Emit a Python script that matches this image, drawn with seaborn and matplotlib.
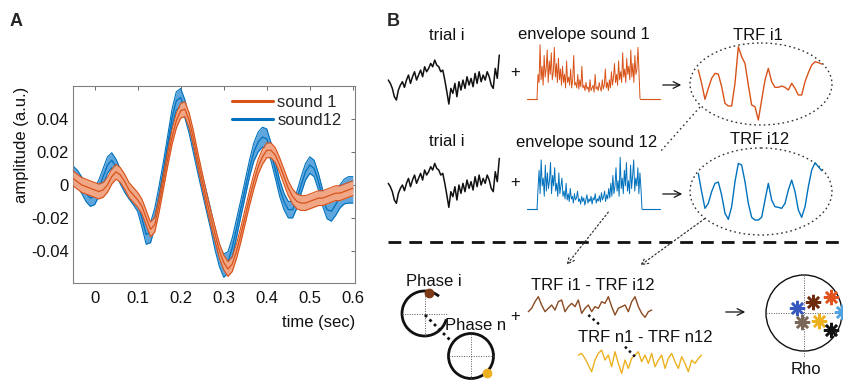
import numpy as np
import pandas as pd
import matplotlib
matplotlib.use("Agg")
import matplotlib.pyplot as plt
from matplotlib.patches import Ellipse, Circle, Arc
from matplotlib.lines import Line2D
import seaborn as sns

# ---------------- Panel A: average TRFs ----------------
time_s = np.round(np.arange(-5, 61) / 100.0, 2)

sound1_mean = [0.004, 0.002, 0.000, -0.001, -0.002, -0.003, -0.004, -0.003, 0.000, 0.005,
               0.008, 0.006, 0.002, -0.003, -0.006, -0.009, -0.013, -0.020, -0.027, -0.024,
               -0.012, 0.002, 0.016, 0.029, 0.039, 0.045, 0.046, 0.039, 0.028, 0.015,
               0.003, -0.009, -0.020, -0.030, -0.040, -0.047, -0.051, -0.048, -0.040, -0.030,
               -0.019, -0.008, 0.002, 0.011, 0.017, 0.021, 0.021, 0.018, 0.012, 0.005,
               -0.002, -0.007, -0.010, -0.011, -0.011, -0.010, -0.009, -0.008, -0.008, -0.007,
               -0.006, -0.005, -0.005, -0.004, -0.003, -0.002]
sound1_sem = 0.0045

sound12_mean = [0.006, 0.004, 0.000, -0.005, -0.008, -0.007, -0.002, 0.005, 0.012, 0.015,
                0.011, 0.005, 0.000, -0.004, -0.007, -0.011, -0.020, -0.030, -0.029, -0.020,
                -0.006, 0.009, 0.025, 0.041, 0.051, 0.053, 0.046, 0.036, 0.024, 0.012,
                0.001, -0.010, -0.021, -0.033, -0.043, -0.049, -0.047, -0.038, -0.026, -0.014,
                -0.002, 0.010, 0.020, 0.026, 0.029, 0.028, 0.020, 0.009, -0.002, -0.010,
                -0.015, -0.015, -0.009, 0.000, 0.008, 0.012, 0.010, 0.002, -0.008, -0.015,
                -0.016, -0.012, -0.007, -0.004, -0.003, -0.003]
sound12_sem = [0.0055, 0.005, 0.005, 0.005, 0.005, 0.005, 0.005, 0.005, 0.005, 0.0045,
               0.0045, 0.0045, 0.0045, 0.0045, 0.005, 0.005, 0.0055, 0.006, 0.006, 0.006,
               0.0055, 0.005, 0.005, 0.005, 0.0055, 0.0055, 0.0055, 0.005, 0.005, 0.005,
               0.0055, 0.006, 0.006, 0.0065, 0.0065, 0.007, 0.0065, 0.006, 0.0055, 0.005,
               0.005, 0.005, 0.0055, 0.006, 0.006, 0.006, 0.0055, 0.005, 0.005, 0.005,
               0.005, 0.005, 0.005, 0.005, 0.005, 0.005, 0.005, 0.005, 0.005, 0.0055,
               0.006, 0.0065, 0.007, 0.0075, 0.008, 0.008]

series_labels = ["sound 1", "sound12"]
yticks = [-0.04, -0.02, 0, 0.02, 0.04]
ytick_labels = ["-0.04", "-0.02", "0", "0.02", "0.04"]
xticks = [0, 0.1, 0.2, 0.3, 0.4, 0.5, 0.6]
xtick_labels = ["0", "0.1", "0.2", "0.3", "0.4", "0.5", "0.6"]

# ---------------- Panel B: schematic traces ----------------
trial_trace = [8.0, 7.0, 5.5, 3.0, 2.0, 5.0, 6.5, 7.5, 5.8, 8.0, 9.5, 7.0, 9.0, 10.5, 8.0,
               9.5, 11.0, 9.0, 12.0, 10.5, 11.5, 13.0, 12.0, 14.0, 12.5, 12.0, 10.5, 11.0,
               8.0, 4.5, 0.8, 5.5, 4.0, 7.0, 3.0, 7.5, 5.0, 8.0, 5.5, 9.0, 6.5, 8.5, 6.0,
               10.0, 7.0, 10.5, 7.5, 9.5, 8.0, 10.5, 9.0, 6.5, 5.5, 11.5, 8.5, 15.5]

envelope_sound1 = [0.0,
                   0.45, 0.30, 1.00, 0.35, 0.60, 0.25, 0.80, 0.40, 0.55, 0.90, 0.30, 0.70, 0.45,
                   0.85, 0.35, 0.50, 0.95, 0.40, 0.65, 0.30, 0.75, 0.35, 0.55, 0.25, 0.60,
                   0.30, 0.45, 0.20, 0.70, 0.30, 0.40, 0.25, 0.55, 0.20, 0.35, 0.80, 0.25,
                   0.30, 0.20, 0.45, 0.18, 0.35, 0.22, 0.60, 0.20,
                   0.25, 0.15, 0.30, 0.18, 0.22, 0.12, 0.35, 0.15, 0.20, 0.25, 0.12, 0.45,
                   0.18, 0.22, 0.15, 0.30, 0.20, 0.14, 0.35, 0.18, 0.25, 0.55, 0.20, 0.30, 0.15,
                   0.35, 0.20, 0.50, 0.25, 0.40, 0.65, 0.30, 0.45, 0.25, 0.70, 0.35, 0.50,
                   0.30, 0.85, 0.40, 0.55, 0.30, 0.75, 0.45, 0.60, 0.35, 0.90, 0.40, 0.65,
                   0.30, 0.80, 0.45, 0.55, 0.95, 0.50,
                   0.0]

envelope_sound12 = [0.0,
                    0.40, 0.75, 0.30, 0.95, 0.45, 0.60, 0.25, 0.85, 0.35, 0.70, 0.40, 0.55,
                    0.90, 0.30, 0.65, 0.45, 0.80, 0.35, 0.50, 0.25, 0.70, 0.30, 0.45, 0.60, 0.25,
                    0.35, 0.20, 0.50, 0.18, 0.30, 0.15, 0.40, 0.20, 0.25, 0.12, 0.30, 0.18,
                    0.22, 0.35, 0.15,
                    0.20, 0.10, 0.25, 0.15, 0.22, 0.08, 0.18, 0.28, 0.12, 0.20, 0.15, 0.25,
                    0.10, 0.22, 0.18, 0.30, 0.12, 0.20, 0.16, 0.26, 0.14, 0.32, 0.18, 0.24,
                    0.35, 0.15, 0.28, 0.20, 0.40, 0.22,
                    0.50, 0.25, 0.65, 0.30, 0.45, 0.80, 0.35, 0.55, 0.25, 1.00, 0.40, 0.60,
                    0.30, 0.75, 0.45, 0.90, 0.35, 0.55, 0.30, 0.85, 0.40, 0.65, 0.95, 0.35,
                    0.60, 0.45, 0.80, 0.30, 0.70, 0.40,
                    0.0]

trf_i1 = [0.90, 0.50, 0.02, 0.35, 0.65, 0.80, 0.78, 0.40, -0.10, -0.18, -0.18, 0.50, 1.60,
          1.30, 1.10, 0.45, -0.15, -0.20, -0.60, 0.00, 0.60, 0.95, 0.55, 0.38, 0.38, 0.42,
          0.38, 0.30, 0.50, 0.35, 0.15, 0.15, 0.55, 0.82, 1.05, 1.15, 1.12, 1.08]

trf_i12 = [1.40, 0.85, 0.35, 0.50, 0.85, 1.10, 1.14, 0.75, 0.20, 0.02, 0.40, 1.15, 1.70,
           1.65, 1.15, 0.50, 0.08, 0.00, 0.00, 0.08, 0.60, 1.10, 0.60, 0.40, 0.38, 0.35,
           0.50, 0.90, 1.20, 0.85, 0.30, 0.08, 0.40, 1.00, 1.50, 1.72, 1.60, 1.48]

trf_diff_i = [2.5, 3.5, 5.5, 7.0, 4.5, 2.5, 3.5, 4.5, 3.0, 5.5, 6.0, 2.5, 4.0, 5.0, 4.0,
              6.0, 2.0, 3.5, 4.5, 2.5, 4.0, 3.5, 5.5, 5.0, 7.0, 4.0, 1.5, 3.5, 4.0, 4.5,
              2.5, 5.5, 7.0, 4.0, 2.0, 0.8, 2.5, 3.0]

trf_diff_n = [6.5, 7.0, 5.5, 3.5, 1.5, 5.0, 7.0, 8.0, 5.0, 6.5, 3.0, 7.5, 4.0, 1.0, 5.0,
              2.5, 5.5, 6.5, 7.5, 4.5, 6.5, 4.0, 7.0, 3.0, 5.0, 6.5, 2.5, 5.5, 7.0, 4.5,
              2.5, 6.0, 4.0, 1.5, 5.0, 4.0, 5.5, 6.5]

# phase-coherence points inside the Rho circle (unit-circle coordinates)
rho_x = [-0.19, 0.24, 0.70, 1.00, -0.06, 0.39, 0.70]
rho_y = [0.12, 0.30, 0.43, 0.03, -0.23, -0.20, -0.45]
rho_colors = ["#3559C0", "#6E2A0C", "#E2521E", "#4FA3E0", "#7A6757", "#EDB120", "#111111"]

ORANGE = "#D95319"
BLUE = "#0072BD"
ORANGE_FILL = "#F1A686"
BLUE_FILL = "#5FA6DC"
BROWN = "#8B4A22"
YELLOW = "#EDB120"

sns.set_theme(style="white")
plt.rcParams["font.family"] = ["Liberation Sans", "DejaVu Sans"]
plt.rcParams["axes.unicode_minus"] = False

W, H = 843, 381
fig = plt.figure(figsize=(W / 100, H / 100), dpi=100)

# ---------- Panel A ----------
axA = fig.add_axes([73 / W, 1 - 283 / H, (355 - 73) / W, (283 - 86) / H])

m12 = np.asarray(sound12_mean)
s12 = np.asarray(sound12_sem)
m1 = np.asarray(sound1_mean)

axA.fill_between(time_s, m12 - s12, m12 + s12, color=BLUE_FILL, lw=0, zorder=1)
axA.plot(time_s, m12 - s12, color=BLUE, lw=0.8, zorder=2)
axA.plot(time_s, m12 + s12, color=BLUE, lw=0.8, zorder=2)
df12 = pd.DataFrame({"time": time_s, "amplitude": m12})
sns.lineplot(data=df12, x="time", y="amplitude", ax=axA, color=BLUE, lw=0.9, zorder=2)

axA.fill_between(time_s, m1 - sound1_sem, m1 + sound1_sem, color=ORANGE_FILL, lw=0, zorder=3)
axA.plot(time_s, m1 - sound1_sem, color=ORANGE, lw=0.8, zorder=4)
axA.plot(time_s, m1 + sound1_sem, color=ORANGE, lw=0.8, zorder=4)
df1 = pd.DataFrame({"time": time_s, "amplitude": m1})
sns.lineplot(data=df1, x="time", y="amplitude", ax=axA, color=ORANGE, lw=0.9, zorder=4)

axA.set_xlim(-0.05, 0.605)
axA.set_ylim(-0.0595, 0.06)
axA.set_xticks(xticks)
axA.set_xticklabels(xtick_labels)
axA.set_yticks(yticks)
axA.set_yticklabels(ytick_labels)
axA.set_xlabel("")
axA.set_ylabel("")
axA.tick_params(direction="in", length=3, width=0.6, color="#555555",
                labelsize=12, labelcolor="#111111", top=True, right=True,
                labeltop=False, labelright=False)
axA.tick_params(axis="x", pad=6)
axA.tick_params(axis="y", pad=3)
for sp in axA.spines.values():
    sp.set_color("#808080")
    sp.set_linewidth(0.8)

handles = [Line2D([], [], color=ORANGE, lw=2.2), Line2D([], [], color=BLUE, lw=2.2)]
axA.legend(handles, series_labels, loc="upper right", frameon=False, fontsize=12,
           handlelength=2.5, handletextpad=0.25, labelspacing=0.15,
           borderaxespad=0.15, bbox_to_anchor=(0.985, 1.0))

fig.text(22 / W, 1 - 145 / H, "amplitude (a.u.)", rotation=90, ha="center",
         va="center", fontsize=12, color="#111111")
fig.text(355 / W, 1 - 322 / H, "time (sec)", ha="right", va="center",
         fontsize=12, color="#111111")
fig.text(16 / W, 1 - 21 / H, "A", ha="center", va="center", fontsize=13,
         fontweight="bold")

# ---------- Panel B (pixel coordinates) ----------
axB = fig.add_axes([380 / W, 0, (W - 380) / W, 1])
axB.set_xlim(380, W)
axB.set_ylim(H, 0)
axB.axis("off")


def draw_trace(values, x0, x1, base, scale, color, lw):
    xs = np.linspace(x0, x1, len(values))
    ys = base - scale * np.asarray(values, dtype=float)
    sns.lineplot(x=xs, y=ys, ax=axB, color=color, lw=lw, sort=False, estimator=None)


txt = dict(fontsize=12, color="#111111", ha="center", va="center")
fig.text(393 / W, 1 - 21 / H, "B", ha="center", va="center", fontsize=13,
         fontweight="bold")

# row 1
axB.text(447, 35, "trial i", **txt)
axB.text(584, 35, "envelope sound 1", **txt)
axB.text(758, 35, "TRF i1", **txt)
draw_trace(trial_trace, 388.3, 499.3, 106.7, 3.33, "#111111", 1.1)
axB.text(515, 73, "+", **txt)
axB.plot([527, 537], [98.7, 98.7], color=ORANGE, lw=0.8)
axB.plot([640, 660], [98.7, 98.7], color=ORANGE, lw=0.8)
draw_trace(envelope_sound1, 537, 640, 98.7, 54, ORANGE, 0.7)
axB.annotate("", xy=(684, 85), xytext=(660, 85),
             arrowprops=dict(arrowstyle="->", color="#111111", lw=0.9))
axB.add_patch(Ellipse((761, 84), 142, 82, fill=False, ls=(0, (1.2, 2.2)),
                      ec="#333333", lw=1.0))
draw_trace(trf_i1, 698.3, 821.7, 100, 33.3, ORANGE, 1.0)

# row 2
axB.text(447, 142, "trial i", **txt)
axB.text(587, 142, "envelope sound 12", **txt)
axB.text(760, 140, "TRF i12", **txt)
draw_trace(trial_trace, 388.3, 499.3, 210, 3.33, "#111111", 1.1)
axB.text(515, 182, "+", **txt)
axB.plot([527, 537], [209.3, 209.3], color=BLUE, lw=0.8)
axB.plot([642, 660], [209.3, 209.3], color=BLUE, lw=0.8)
draw_trace(envelope_sound12, 537, 642, 209.3, 52, BLUE, 0.7)
axB.annotate("", xy=(685, 194), xytext=(660, 194),
             arrowprops=dict(arrowstyle="->", color="#111111", lw=0.9))
axB.add_patch(Ellipse((761, 191.5), 142, 87, fill=False, ls=(0, (1.2, 2.2)),
                      ec="#333333", lw=1.0))
draw_trace(trf_i12, 698.3, 821.7, 220, 33.3, BLUE, 1.0)

# dotted link between the two rows
axB.plot([700, 660], [107, 152], color="#333333", lw=1.0, ls=(0, (1.2, 2.2)))

# separator
axB.plot([388, W], [242, 242], color="#111111", lw=2.0, ls=(0, (4.6, 2.9)))

# dotted arrows into the lower row
axB.annotate("", xy=(565, 267), xytext=(610, 210),
             arrowprops=dict(arrowstyle="->", color="#333333", lw=0.9, ls=(0, (1.2, 2.0))))
axB.annotate("", xy=(638, 267), xytext=(707, 217),
             arrowprops=dict(arrowstyle="->", color="#333333", lw=0.9, ls=(0, (1.2, 2.0))))

# phase circles
c1, c2, r = (424.5, 313.5), (471, 356), 22.5
axB.add_patch(Arc(c1, 2 * r, 2 * r, theta1=15, theta2=310, color="#111111", lw=2.0))
axB.add_patch(Circle(c2, r, fill=False, ec="#111111", lw=2.0))
for (cx, cy) in (c1, c2):
    axB.plot([cx - r, cx + r], [cy, cy], color="#555555", lw=0.7, ls=(0, (1, 1.5)))
    axB.plot([cx, cx], [cy - r, cy + r], color="#555555", lw=0.7, ls=(0, (1, 1.5)))
axB.plot([425, 451.7], [315, 341.7], color="#111111", lw=2.0, ls=(0, (1, 1.3)))
axB.plot([429.3], [293.3], "o", color="#7E3A17", ms=6)
axB.plot([487.3], [372.7], "o", color=YELLOW, ms=6)
axB.text(406, 281, "Phase i", fontsize=12, color="#111111", ha="left", va="center")
axB.text(445, 325, "Phase n", fontsize=12, color="#111111", ha="left", va="center")
axB.text(515, 317, "+", **txt)

# TRF differences
axB.text(593, 285, "TRF i1 - TRF i12", **txt)
draw_trace(trf_diff_i, 528.3, 651.7, 320, 3.33, BROWN, 1.0)
axB.text(645, 338, "TRF n1 - TRF n12", **txt)
draw_trace(trf_diff_n, 578.3, 701.7, 376.7, 3.33, YELLOW, 1.0)
axB.plot([588.3, 600], [315, 325], color="#111111", lw=1.8, ls=(0, (1, 1.3)))
axB.plot([625, 635], [346.7, 356.7], color="#111111", lw=1.8, ls=(0, (1, 1.3)))

axB.annotate("", xy=(748, 312), xytext=(723, 312),
             arrowprops=dict(arrowstyle="->", color="#111111", lw=0.9))

# Rho circle
rc, rr = (804, 313), 38
axB.add_patch(Circle(rc, rr, fill=False, ec="#111111", lw=1.0))
axB.plot([rc[0] - rr, rc[0] + rr], [rc[1], rc[1]], color="#555555", lw=0.7, ls=(0, (1, 1.5)))
axB.plot([rc[0], rc[0]], [rc[1] - rr, rc[1] + rr + 6], color="#555555", lw=0.7, ls=(0, (1, 1.5)))
for x, y, c in zip(rho_x, rho_y, rho_colors):
    axB.plot([rc[0] + rr * x], [rc[1] - rr * y], marker=(8, 2, 0), color=c, ms=11, mew=1.8)
axB.text(806, 369, "Rho", **txt)

fig.savefig("out.png", dpi=100)
